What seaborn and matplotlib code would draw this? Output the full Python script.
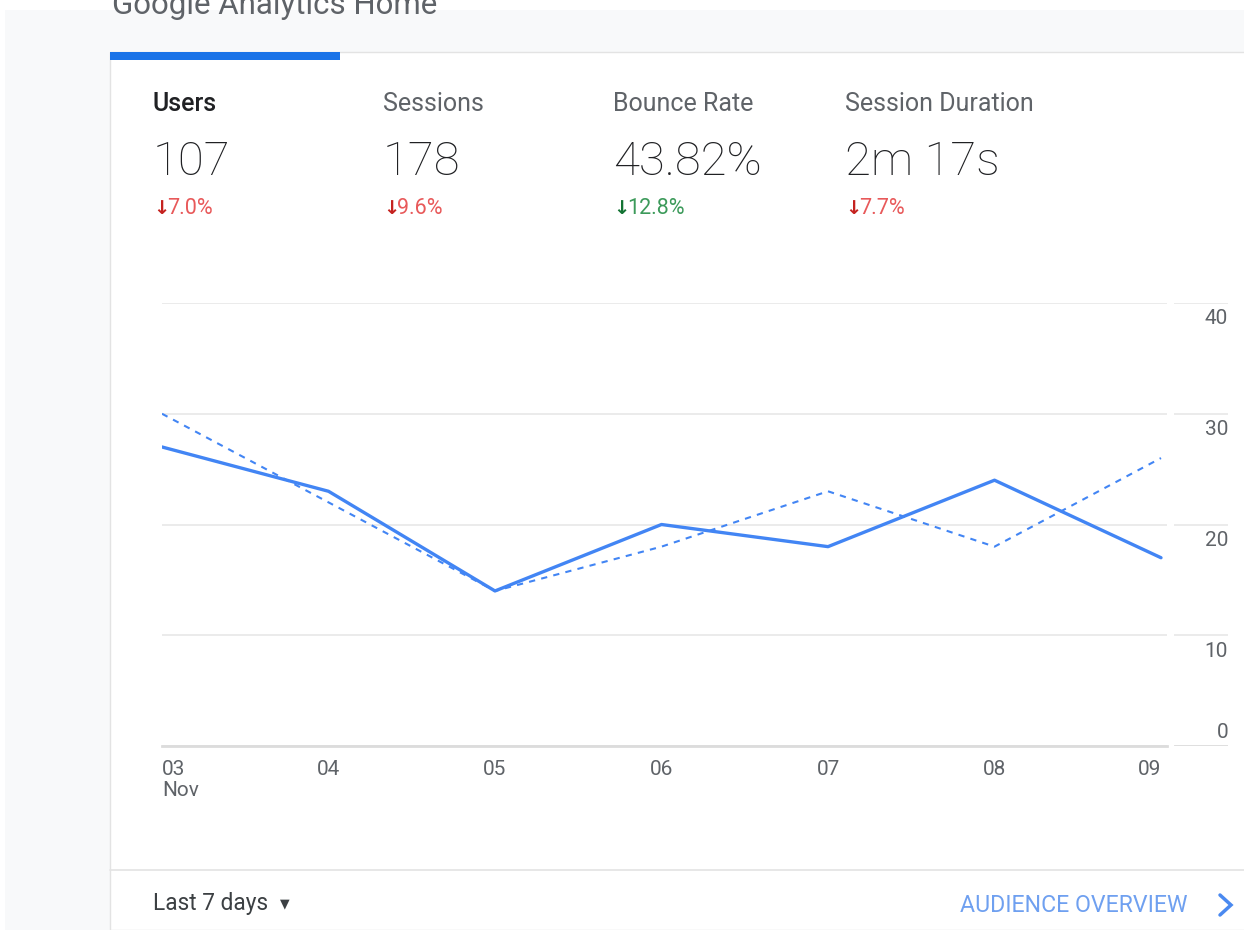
import numpy as np
import pandas as pd
import matplotlib
matplotlib.use("Agg")
import matplotlib.pyplot as plt
import seaborn as sns
from matplotlib.patches import Rectangle
from matplotlib.lines import Line2D

# data
days = ["03\nNov", "04", "05", "06", "07", "08", "09"]
users_current = [27, 23, 14, 20, 18, 24, 17]
users_previous = [30, 22, 14, 18, 23, 18, 26]
yticks = [0, 10, 20, 30, 40]

metric_names = ["Users", "Sessions", "Bounce Rate", "Session Duration"]
metric_values = ["107", "178", "43.82%", "2m 17s"]
metric_changes = ["7.0%", "9.6%", "12.8%", "7.7%"]
metric_good = [False, False, True, False]

df = pd.DataFrame({"day": np.arange(len(days)),
                   "current": users_current,
                   "previous": users_previous})

sns.set_theme(style="white")
plt.rcParams["font.family"] = ["Roboto", "DejaVu Sans"]

W, H = 1244, 930
fig = plt.figure(figsize=(W / 100, H / 100), dpi=100)
fig.patch.set_facecolor("white")

def fx(px):
    return px / W

def fy(py):
    return 1 - py / H

# page background and card
fig.patches.append(Rectangle((fx(5), 0), 1, fy(10), transform=fig.transFigure,
                             facecolor="#f8f9fa", edgecolor="none", zorder=-3))
fig.patches.append(Rectangle((fx(110), 0), 1, fy(52), transform=fig.transFigure,
                             facecolor="white", edgecolor="#e3e3e3", lw=1, zorder=-2))
fig.patches.append(Rectangle((fx(110), fy(60)), fx(230), 8 / H, transform=fig.transFigure,
                             facecolor="#1a73e8", edgecolor="none", zorder=-1))
fig.lines.append(Line2D([fx(110), 1], [fy(870), fy(870)], transform=fig.transFigure,
                        color="#e3e3e3", lw=1.2, zorder=-1))

fig.text(fx(112), fy(14), "Google Analytics Home", fontsize=22.5, color="#5f6368",
         va="baseline", ha="left", zorder=-1)

# metric headers
col_x = [153, 383, 613, 845]
for i in range(len(metric_names)):
    x = fx(col_x[i])
    fig.text(x, fy(104), metric_names[i], fontsize=18, va="center", ha="left",
             color="#202124" if i == 0 else "#5f6368",
             fontweight="medium" if i == 0 else "normal")
    fig.text(x, fy(162), metric_values[i], fontsize=34, va="center", ha="left",
             color="#202124", fontweight="light")
    dark = "#137333" if metric_good[i] else "#c5221f"
    light = "#3c9a5a" if metric_good[i] else "#e8595a"
    fig.text(x, fy(208), "\u2193", fontsize=14, va="center", ha="left",
             color=dark, fontweight="bold", family="DejaVu Sans")
    fig.text(x + fx(14), fy(208), metric_changes[i], fontsize=15.5, va="center",
             ha="left", color=light)

# main chart
x_left, x_right, y_top, y_bot = 162, 1167, 303, 746
ax = fig.add_axes([fx(x_left), fy(y_bot), fx(x_right - x_left), (y_bot - y_top) / H])
ax.set_facecolor("none")
sns.lineplot(data=df, x="day", y="previous", ax=ax, color="#4285f4", lw=1.5,
             linestyle=(0, (3, 3)))
sns.lineplot(data=df, x="day", y="current", ax=ax, color="#4285f4", lw=2.4)

span = (len(days) - 1) * (x_right - x_left) / (1161 - x_left)
ax.set_xlim(0, span)
ax.set_ylim(0, 40)
ax.set_yticks(yticks)
ax.yaxis.grid(True, color="#e6e6e6", lw=1.1)
ax.set_axisbelow(True)
ax.tick_params(axis="y", left=False, labelleft=False)
for s in ["top", "right", "left"]:
    ax.spines[s].set_visible(False)
ax.spines["bottom"].set_color("#dcdcdc")
ax.spines["bottom"].set_linewidth(2)
ax.set_xticks(df["day"])
ax.set_xticklabels(days)
ax.tick_params(axis="x", direction="inout", length=8, width=1, color="#dcdcdc",
               labelsize=15, labelcolor="#5f6368", pad=6)
labels = ax.get_xticklabels()
for j, lab in enumerate(labels):
    lab.set_va("top")
    lab.set_linespacing(1.15)
    if j == 0:
        lab.set_ha("left")
    elif j == len(labels) - 1:
        lab.set_ha("right")
    else:
        lab.set_ha("center")
ax.set_xlabel("")
ax.set_ylabel("")

# right hand value axis
ax2 = fig.add_axes([fx(1174), fy(y_bot), fx(54), (y_bot - y_top) / H])
ax2.set_facecolor("none")
ax2.set_xlim(0, 1)
ax2.set_ylim(0, 40)
for s in ax2.spines.values():
    s.set_visible(False)
ax2.set_xticks([])
ax2.set_yticks([])
for v in yticks:
    ax2.axhline(v, color="#dcdcdc" if v == 0 else "#e6e6e6", lw=2 if v == 0 else 1.1)
    off = 14 if v == 0 else -16
    ax2.annotate(str(v), (1, v), xytext=(0, off), textcoords="offset pixels",
                 ha="right", va="center", fontsize=15, color="#5f6368")

# footer
fig.text(fx(153), fy(903), "Last 7 days", fontsize=16.3, color="#3c4043",
         va="center", ha="left")
fig.text(fx(280), fy(904), "\u25bc", fontsize=9, color="#3c4043",
         va="center", ha="left", family="DejaVu Sans")
fig.text(fx(1188), fy(905), "AUDIENCE OVERVIEW", fontsize=16.7, color="#6fa0f0",
         va="center", ha="right")
fig.lines.append(Line2D([fx(1220), fx(1231), fx(1220)], [fy(895), fy(905), fy(915)],
                        transform=fig.transFigure, color="#4a89f0", lw=2.5,
                        solid_joinstyle="miter"))

fig.savefig("out.png", dpi=100)
